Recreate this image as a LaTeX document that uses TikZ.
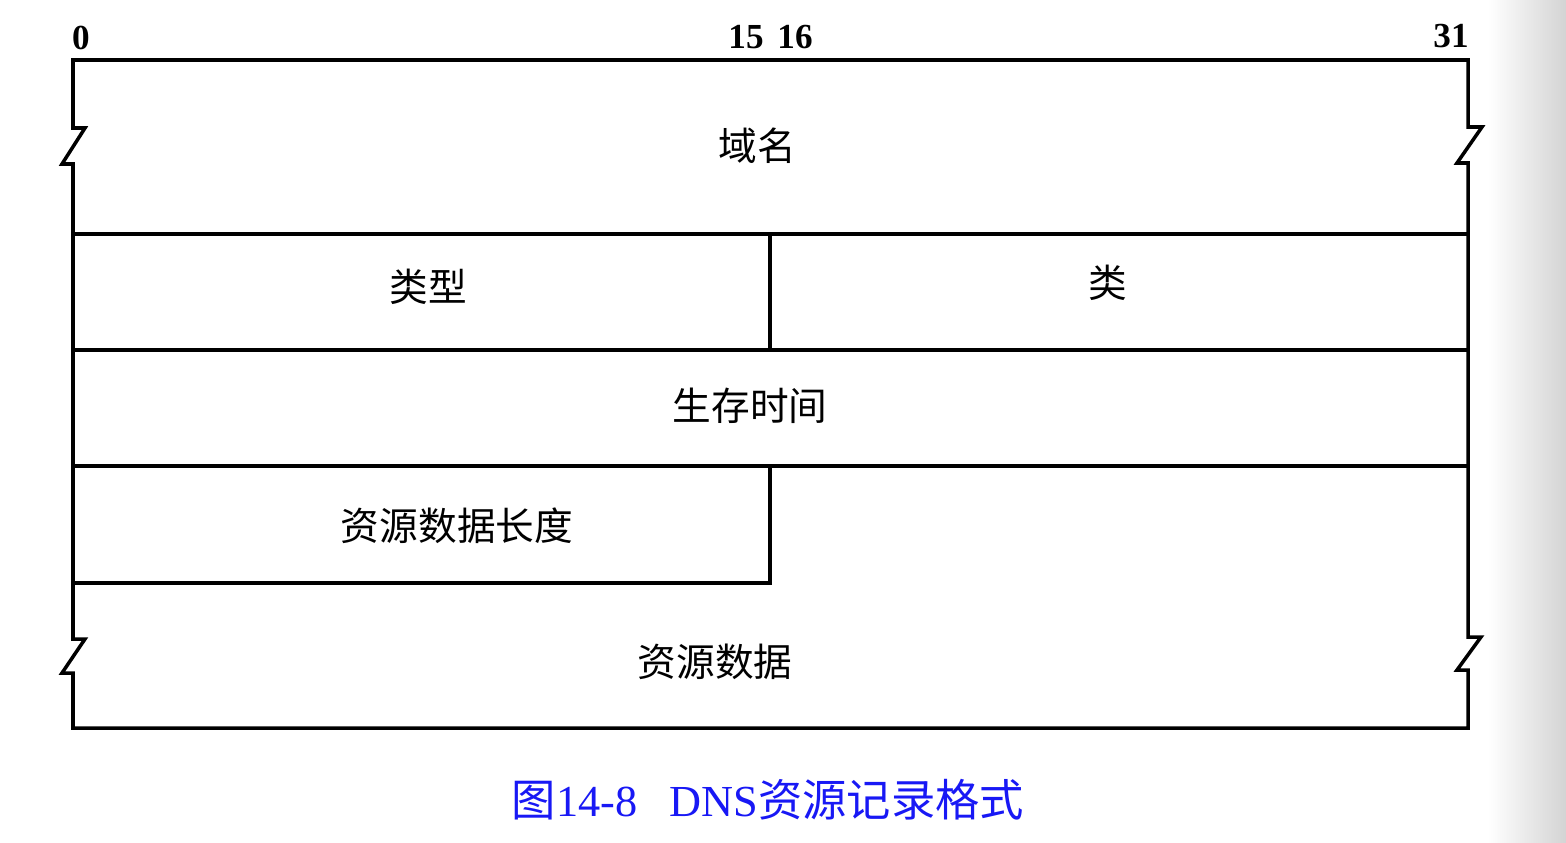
\documentclass[tikz,border=0pt]{standalone}
\usepackage{fontspec}
\setmainfont{Liberation Serif}
\newfontfamily\cjk{Noto Sans CJK SC}
\definecolor{capblue}{RGB}{24,24,245}
\begin{document}
\begin{tikzpicture}[x=0.01cm,y=-0.01cm,
  frame/.style={line width=1pt,line join=miter},
  fieldlabel/.style={font=\cjk\fontsize{11}{13}\selectfont,inner sep=0pt},
  bitlabel/.style={font=\bfseries\fontsize{10}{12}\selectfont,inner sep=0pt},
  caption/.style={font=\fontsize{12.6}{14}\selectfont,text=capblue,inner sep=0pt}]
\useasboundingbox (0,0) rectangle (1566,842);
\fill[white] (0,0) rectangle (1566,842);
\shade[left color=white,right color=black!17] (1488,0) rectangle (1566,842);
% corner coordinates
\coordinate (tl) at (73,60);
\coordinate (tr) at (1468,60);
\coordinate (bl) at (73,728);
\coordinate (br) at (1468,728);
\coordinate (r1l) at (73,234);  \coordinate (r1r) at (1468,234);
\coordinate (r2l) at (73,350);  \coordinate (r2r) at (1468,350);
\coordinate (r3l) at (73,466);  \coordinate (r3r) at (1468,466);
\coordinate (r4l) at (73,583);  \coordinate (r4m) at (770,583);
\coordinate (m1t) at (770,234); \coordinate (m1b) at (770,350);
\coordinate (m2t) at (770,466);
% outline with break marks
\draw[frame] (tl) -- (73,128) -- (85,128) -- (62,164) -- (73,164)
  -- (73,639) -- (85,639) -- (62,673) -- (73,673) -- (bl) -- (br)
  -- (1468,670) -- (1457,670) -- (1481,637) -- (1468,637)
  -- (1468,163) -- (1457,163) -- (1482,127) -- (1468,127) -- (tr) -- cycle;
% row lines
\draw[frame] (r1l) -- (r1r);
\draw[frame] (r2l) -- (r2r);
\draw[frame] (r3l) -- (r3r);
\draw[frame] (r4l) -- (r4m) -- (m2t);
\draw[frame] (m1t) -- (m1b);
% bit numbers
\node[bitlabel] (b0) at (81,38) {0};
\node[bitlabel] (b15) at (746,37) {15};
\node[bitlabel] (b16) at (795,37) {16};
\node[bitlabel] (b31) at (1451,36) {31};
% field labels
\node[fieldlabel] (name) at (757,146) {域名};
\node[fieldlabel] (type) at (428,287) {类型};
\node[fieldlabel] (class) at (1108,283) {类};
\node[fieldlabel] (ttl) at (750,406) {生存时间};
\node[fieldlabel] (rdlen) at (457,526) {资源数据长度};
\node[fieldlabel] (rdata) at (715,662) {资源数据};
% caption
\node[caption] (cap) at (768,800) {{\cjk 图}14-8\hspace{0.32cm}DNS{\cjk 资源记录格式}};
\end{tikzpicture}
\end{document}
